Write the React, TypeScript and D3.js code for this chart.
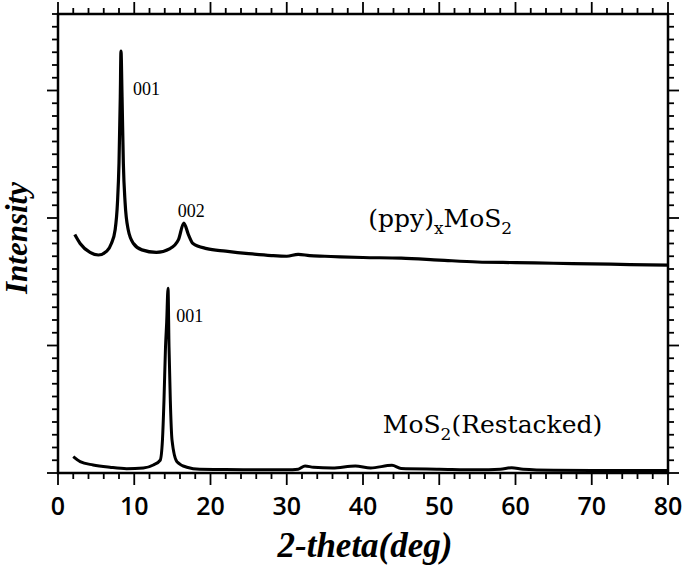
import React from 'react';
import * as d3 from 'd3';

// (ppy)xMoS2 pattern (2-theta in degrees, intensity in arbitrary units)
const ppyTheta = [2.2, 2.9, 4.2, 5.3, 6.4, 7.0, 7.5, 7.8, 8.0, 8.17, 8.26, 8.4, 8.57, 8.8, 9.2, 9.9, 11.0, 12.9, 14.7, 15.8, 16.5, 17.1, 17.7, 19.5, 22, 25, 28, 30, 31.5, 33, 35, 37, 40, 45, 50, 55, 60, 65, 70, 75, 80];
const ppyIntensity = [18.7, 18.0, 17.3, 17.1, 17.4, 18.0, 19.1, 21.2, 24.3, 29.5, 33.1, 29.5, 24.3, 21.2, 19.1, 18.0, 17.5, 17.3, 17.6, 18.3, 19.6, 18.7, 18.0, 17.6, 17.4, 17.2, 17.05, 17.0, 17.15, 17.05, 17.0, 16.95, 16.9, 16.85, 16.7, 16.55, 16.5, 16.45, 16.4, 16.35, 16.3];

// MoS2 (restacked) pattern
const mosTheta = [2.0, 2.9, 4.6, 6.8, 9.0, 11.2, 12.5, 13.4, 13.7, 13.9, 14.1, 14.25, 14.43, 14.56, 14.73, 14.95, 15.6, 16.9, 18.6, 22, 26, 30, 31.5, 32.4, 33.5, 36, 39, 41, 43.8, 45, 50, 55, 58, 59.5, 61, 65, 70, 75, 80];
const mosIntensity = [1.28, 0.89, 0.63, 0.45, 0.34, 0.39, 0.63, 1.0, 2.6, 5.7, 9.9, 11.8, 14.5, 9.9, 5.7, 2.6, 0.89, 0.45, 0.29, 0.27, 0.26, 0.26, 0.3, 0.55, 0.45, 0.4, 0.55, 0.4, 0.6, 0.35, 0.3, 0.25, 0.3, 0.42, 0.3, 0.22, 0.2, 0.2, 0.2];

const xTickLabels = [0, 10, 20, 30, 40, 50, 60, 70, 80];
const xMinorTicks = d3.range(0, 81, 2);
const yMinorTicks = d3.range(0, 37, 1);

const X_DOMAIN: [number, number] = [0, 80];
const Y_DOMAIN: [number, number] = [0, 36];

export default function App() {
  const W = 685, H = 567;
  const left = 58, right = 668, top = 14, bottom = 473;
  const x = d3.scaleLinear().domain(X_DOMAIN).range([left, right]);
  const y = d3.scaleLinear().domain(Y_DOMAIN).range([bottom, top]);

  const line = d3.line<[number, number]>()
    .x(d => x(d[0]))
    .y(d => y(d[1]))
    .curve(d3.curveMonotoneX);

  const ppyPath = line(ppyTheta.map((t, i) => [t, ppyIntensity[i]] as [number, number])) || '';
  const mosPath = line(mosTheta.map((t, i) => [t, mosIntensity[i]] as [number, number])) || '';

  const isMajorX = (v: number) => v % 10 === 0;
  const isMajorY = (v: number) => v % 10 === 0;

  const serif = '"DejaVu Serif", serif';
  const times = '"Liberation Serif", "Times New Roman", serif';

  return (
    <svg width={W} height={H} style={{ position: 'absolute', left: 0, top: 0, background: '#fff' }}>
      <rect x={0} y={0} width={W} height={H} fill="#fff" />
      {/* frame */}
      <rect x={left} y={top} width={right - left} height={bottom - top} fill="none" stroke="#000" strokeWidth={2.5} />
      {/* x ticks bottom and top */}
      {xMinorTicks.map(v => {
        const len = isMajorX(v) ? 12 : 6;
        return (
          <g key={'xt' + v}>
            <line x1={x(v)} x2={x(v)} y1={bottom} y2={bottom + len} stroke="#000" strokeWidth={1.8} />
            <line x1={x(v)} x2={x(v)} y1={top} y2={top - len} stroke="#000" strokeWidth={1.8} />
          </g>
        );
      })}
      {/* y ticks left and right */}
      {yMinorTicks.map(v => {
        const len = isMajorY(v) ? 11 : 6;
        return (
          <g key={'yt' + v}>
            <line x1={left} x2={left - len} y1={y(v)} y2={y(v)} stroke="#000" strokeWidth={1.8} />
            <line x1={right} x2={right + len} y1={y(v)} y2={y(v)} stroke="#000" strokeWidth={1.8} />
          </g>
        );
      })}
      {/* x tick labels */}
      {xTickLabels.map(v => (
        <text key={'xl' + v} x={x(v)} y={515} textAnchor="middle" fontFamily='"Open Sans", sans-serif' fontWeight={600} fontSize={25} fill="#000">{v}</text>
      ))}
      {/* axis titles */}
      <text x={365} y={557} textAnchor="middle" fontFamily={times} fontWeight="bold" fontStyle="italic" fontSize={35} fill="#000">2-theta(deg)</text>
      <text transform={`translate(27,${238}) rotate(-90)`} textAnchor="middle" fontFamily={times} fontWeight="bold" fontStyle="italic" fontSize={31} fill="#000">Intensity</text>

      {/* curves */}
      <path d={ppyPath} fill="none" stroke="#000" strokeWidth={3.2} strokeLinejoin="round" />
      <path d={mosPath} fill="none" stroke="#000" strokeWidth={3} strokeLinejoin="round" />

      {/* peak labels */}
      <text x={x(9.84)} y={y(29.65)} fontFamily={times} fontSize={18} fill="#000">001</text>
      <text x={x(15.7)} y={y(20.1)} fontFamily={times} fontSize={18} fill="#000">002</text>
      <text x={x(15.5)} y={y(11.84)} fontFamily={times} fontSize={18} fill="#000">001</text>

      {/* series labels */}
      <text x={x(40.7)} y={y(19.3)} fontFamily={serif} fontSize={25} fill="#000">
        (ppy)<tspan dy={7} fontSize={17}>x</tspan><tspan dy={-7}>MoS</tspan><tspan dy={7} fontSize={17}>2</tspan>
      </text>
      <text x={x(42.6)} y={y(3.14)} fontFamily={serif} fontSize={25} fill="#000">
        MoS<tspan dy={7} fontSize={17}>2</tspan><tspan dy={-7}>(Restacked)</tspan>
      </text>
    </svg>
  );
}
